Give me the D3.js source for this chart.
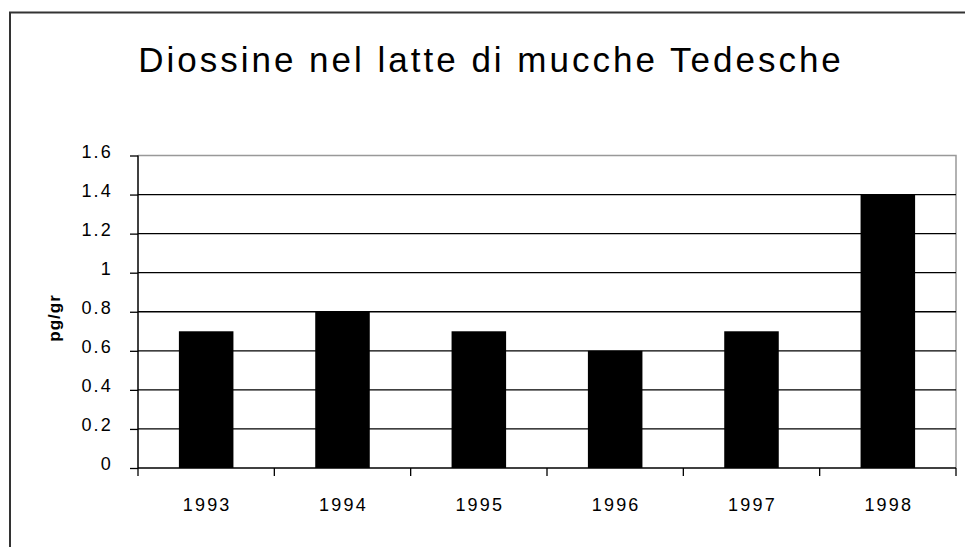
<!DOCTYPE html>
<html>
<head>
<meta charset="utf-8">
<script src="https://cdn.jsdelivr.net/npm/d3@7"></script>
<style>
  body { margin: 0; background: #fff; }
  text { font-family: Arial, "Liberation Sans", sans-serif; }
</style>
</head>
<body>
<svg width="965" height="547"></svg>
<script>
var years = ['1993', '1994', '1995', '1996', '1997', '1998'];
var values = [0.7, 0.8, 0.7, 0.6, 0.7, 1.4];
var yTicks = [0, 0.2, 0.4, 0.6, 0.8, 1, 1.2, 1.4, 1.6];
var title = 'Diossine nel latte di mucche Tedesche';
var yLabel = 'pg/gr';

var svg = d3.select('svg');

var plot = { left: 138, right: 956, top: 155.5, bottom: 468 };

// outer frame (runs off the right and bottom edge)
svg.append('rect')
  .attr('x', 10).attr('y', 12.5)
  .attr('width', 1000).attr('height', 600)
  .attr('fill', 'none')
  .attr('stroke', '#333')
  .attr('stroke-width', 2);

svg.append('text')
  .attr('x', 491).attr('y', 72)
  .attr('text-anchor', 'middle')
  .style('font-size', '35px')
  .style('letter-spacing', '3px')
  .text(title);

var x = d3.scaleBand()
  .domain(years)
  .range([plot.left, plot.right])
  .paddingInner(0.6)
  .paddingOuter(0.3);

var y = d3.scaleLinear()
  .domain([0, 1.6])
  .range([plot.bottom, plot.top]);

// plot border (grey top and right)
svg.append('path')
  .attr('d', 'M' + plot.left + ',' + y(1.6) + 'H' + plot.right + 'V' + plot.bottom)
  .attr('fill', 'none')
  .attr('stroke', '#999')
  .attr('stroke-width', 1.5);

// gridlines
svg.selectAll('.grid')
  .data(yTicks.filter(function(d) { return d > 0 && d < 1.6; }))
  .enter().append('line')
  .attr('x1', plot.left).attr('x2', plot.right)
  .attr('y1', function(d) { return y(d); })
  .attr('y2', function(d) { return y(d); })
  .attr('stroke', '#000')
  .attr('stroke-width', 1.3);

// bars
svg.selectAll('.bar')
  .data(values)
  .enter().append('rect')
  .attr('x', function(d, i) { return x(years[i]); })
  .attr('width', x.bandwidth())
  .attr('y', function(d) { return y(d); })
  .attr('height', function(d) { return y(0) - y(d); })
  .attr('fill', '#000');

// y axis
var yAxis = d3.axisLeft(y)
  .tickValues(yTicks)
  .tickSize(8)
  .tickPadding(17)
  .tickFormat(function(d) { return d3.format('')(+d.toFixed(1)); });

var gy = svg.append('g')
  .attr('transform', 'translate(' + plot.left + ',0)')
  .call(yAxis);
gy.select('.domain').attr('stroke-width', 1.5).attr('d', 'M0,' + y(1.6) + 'V' + y(0));
gy.selectAll('.tick line').attr('stroke-width', 1.3);
gy.selectAll('.tick text')
  .attr('dy', '0.1em')
  .style('font-size', '18px')
  .style('letter-spacing', '2.2px')
  .style('font-family', 'Arial, "Liberation Sans", sans-serif')
  .attr('fill', '#000');

// x axis line and boundary ticks
svg.append('line')
  .attr('x1', plot.left).attr('x2', plot.right)
  .attr('y1', y(0)).attr('y2', y(0))
  .attr('stroke', '#000').attr('stroke-width', 1.5);

var bounds = years.map(function(d) { return x(d) - x.step() * 0.3; }).concat([plot.right]);
svg.selectAll('.xtick')
  .data(bounds)
  .enter().append('line')
  .attr('x1', function(d) { return d; }).attr('x2', function(d) { return d; })
  .attr('y1', y(0)).attr('y2', y(0) + 8)
  .attr('stroke', '#000').attr('stroke-width', 1.3);

svg.selectAll('.xlabel')
  .data(years)
  .enter().append('text')
  .attr('x', function(d) { return x(d) + x.bandwidth() / 2 + 1; })
  .attr('y', 511)
  .attr('text-anchor', 'middle')
  .style('font-size', '18px')
  .style('letter-spacing', '2.2px')
  .text(function(d) { return d; });

svg.append('text')
  .attr('transform', 'translate(60,318) rotate(-90)')
  .attr('text-anchor', 'middle')
  .style('font-size', '17px')
  .style('font-weight', 'bold')
  .style('letter-spacing', '1px')
  .text(yLabel);
</script>
</body>
</html>
